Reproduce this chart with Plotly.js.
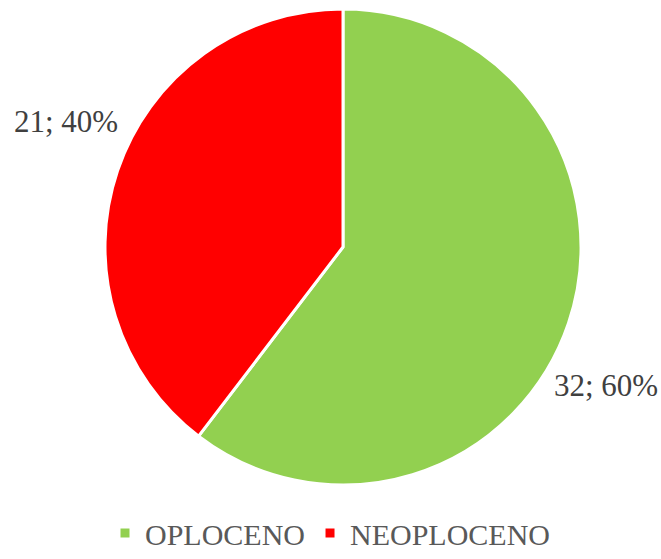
<!DOCTYPE html>
<html><head><meta charset="utf-8">
<script src="https://cdn.plot.ly/plotly-3.0.1.min.js"></script>
<style>html,body{margin:0;padding:0;background:#fff}#chart{width:661px;height:559px}</style>
</head><body><div id="chart"></div>
<script>
const categories = ["OPLOCENO", "NEOPLOCENO"];
const values = [32, 21];
const percents = [60, 40];
const colors = ["#92D050", "#FF0000"];

const labelText = values.map((v, i) => v + "; " + percents[i] + "%");
const serif = "'Liberation Serif', 'Times New Roman', serif";

const trace = {
  type: "pie",
  labels: categories,
  values: values,
  sort: false,
  direction: "clockwise",
  rotation: 0,
  marker: {colors: colors, line: {color: "#ffffff", width: 3}},
  textinfo: "none",
  hoverinfo: "label+value+percent",
  domain: {x: [105/661, 581/661], y: [74/559, 550/559]}
};

const layout = {
  width: 661, height: 559,
  margin: {l: 0, r: 0, t: 0, b: 0, autoexpand: false},
  paper_bgcolor: "#ffffff",
  showlegend: true,
  legend: {
    orientation: "h", x: 0.5, xanchor: "center", y: 0, yanchor: "bottom",
    font: {family: serif, size: 30, color: "#595959"},
    itemwidth: 30, tracegroupgap: 0
  },
  annotations: [
    {text: labelText[0], xref: "paper", yref: "paper", x: 606/661, y: 1 - 385/559,
     showarrow: false, xanchor: "center", yanchor: "middle",
     font: {family: serif, size: 31, color: "#404040"}},
    {text: labelText[1], xref: "paper", yref: "paper", x: 66/661, y: 1 - 122/559,
     showarrow: false, xanchor: "center", yanchor: "middle",
     font: {family: serif, size: 31, color: "#404040"}}
  ]
};

Plotly.newPlot("chart", [trace], layout, {displayModeBar: false, staticPlot: true});
</script></body></html>
